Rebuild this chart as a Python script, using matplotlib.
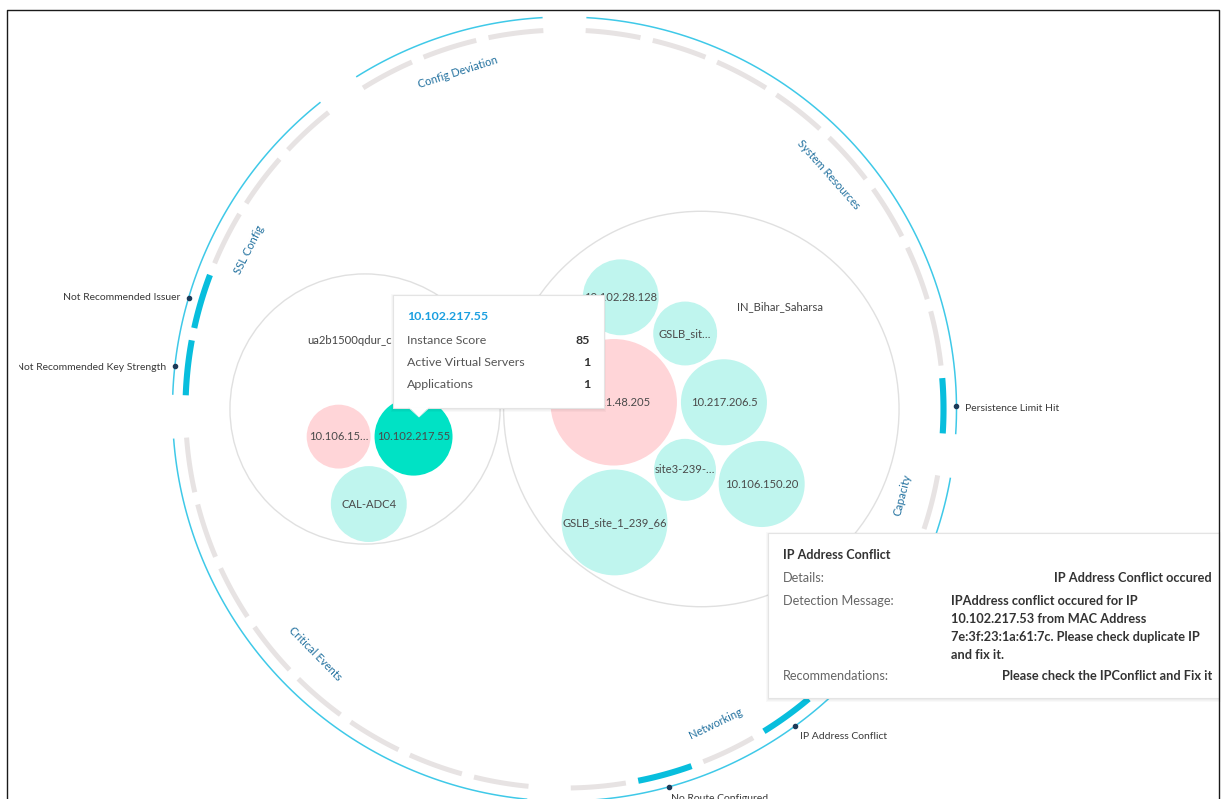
import math
import textwrap
from itertools import combinations

import numpy as np
import matplotlib
matplotlib.use("Agg")
import matplotlib.pyplot as plt
from matplotlib.patches import Circle, Rectangle, Polygon
from matplotlib.transforms import Bbox

plt.rcParams["font.family"] = ["Lato", "DejaVu Sans"]

# ---------------- data ----------------
categories = ["System Resources", "Capacity", "", "Networking",
              "Critical Events", "SSL Config", "Config Deviation"]
segments = [9, 1, 1, 5, 8, 5, 3]

issue_category = ["System Resources", "Networking", "Networking", "SSL Config", "SSL Config"]
issue_slot = [8, 1, 3, 0, 1]
issue_names = ["Persistence Limit Hit", "IP Address Conflict", "No Route Configured",
               "Not Recommended Key Strength", "Not Recommended Issuer"]

group_names = ["ua2b1500qdur_c", "IN_Bihar_Saharsa"]
instance_group = [0, 0, 0, 1, 1, 1, 1, 1, 1, 1]
instance_names = ["10.106.15…", "10.102.217.55", "CAL-ADC4",
                  "10.221.48.205", "10.217.206.5", "site3-239-…", "GSLB_sit…",
                  "GSLB_site_1_239_66", "10.102.28.128", "10.106.150.20"]
instance_size = [10.2, 15.2, 14.4, 40, 18.5, 9.6, 10.2, 28, 14.4, 18.5]
instance_state = ["issue", "selected", "ok", "issue", "ok", "ok", "ok", "ok", "ok", "ok"]

tip_title = "10.102.217.55"
tip_rows = ["Instance Score", "Active Virtual Servers", "Applications"]
tip_values = [85, 1, 1]

detail_title = "IP Address Conflict"
detail_keys = ["Details:", "Detection Message:", "Recommendations:"]
detail_values = ["IP Address Conflict occured",
                 "IPAddress conflict occured for IP 10.102.217.53 from MAC Address "
                 "7e:3f:23:1a:61:7c. Please check duplicate IP and fix it.",
                 "Please check the IPConflict and Fix it"]

# ---------------- style / layout ----------------
W, H = 1223, 799
CX, CY = 564.5, 409
R_LINE, R_DASH = 392, 379
GAP, PAD = 6.4, 1.9
CYAN, CYAN_HOT, GRAY = "#3fc9e8", "#08bedd", "#e7e3e3"
LABEL_C, DOT_C, TXT = "#22719f", "#1d3a58", "#3a3a3a"
fill = {"issue": "#ffd5d8", "ok": "#bff5ee", "selected": "#00e2c5"}

fig = plt.figure(figsize=(W / 100, H / 100), dpi=100)
ax = fig.add_axes([0, 0, 1, 1])
ax.set_xlim(0, W)
ax.set_ylim(H, 0)
ax.axis("off")


def xy(r, deg):
    t = np.radians(deg)
    return CX + r * np.sin(t), CY - r * np.cos(t)


def arc(r, a0, a1, **kw):
    x, y = xy(r, np.linspace(a0, a1, 80))
    ax.plot(x, y, solid_capstyle="butt", **kw)


# ---------------- outer ring ----------------
hot = {(c, s): n for c, s, n in zip(issue_category, issue_slot, issue_names)}
slot = (360 - len(categories) * (GAP - PAD)) / sum(segments)
clip_left = Bbox.from_extents(19, 0, W, H)

a = GAP / 2
for cat, n in zip(categories, segments):
    start = a
    for s in range(n):
        if (cat, s) in hot:
            arc(R_DASH, a, a + slot - PAD, color=CYAN_HOT, lw=4.4, zorder=3)
            m = a + (slot - PAD) / 2
            dx, dy = xy(R_LINE, m)
            ax.plot(dx, dy, "o", ms=3, color=DOT_C, zorder=4)
            tx, ty = xy(R_LINE + 9, m)
            t = ax.text(tx, ty + 2.5, hot[(cat, s)], fontsize=7.5, color=TXT, va="center",
                        ha="left" if np.sin(np.radians(m)) > 0 else "right", clip_on=True)
            t.set_clip_box(clip_left)
        else:
            arc(R_DASH, a, a + slot - PAD, color=GRAY, lw=3.6, zorder=2)
        a += slot
    end = a - PAD
    arc(R_LINE, start, end, color=CYAN, lw=1.1, zorder=2)
    if cat:
        mid = (start + end) / 2
        flip = 90 < mid < 270
        lx, ly = xy(349 if flip else 353, mid)
        ax.text(lx, ly, cat, rotation=(180 - mid) if flip else -mid, rotation_mode="anchor",
                ha="center", va="center", fontsize=8, color=LABEL_C)
    a += GAP - PAD


# ---------------- bubble packing (d3 front-chain) ----------------
def place(b, a, c):
    dx, dy = b[0] - a[0], b[1] - a[1]
    d2 = dx * dx + dy * dy
    if d2:
        a2 = (a[2] + c[2]) ** 2
        b2 = (b[2] + c[2]) ** 2
        if a2 > b2:
            x = (d2 + b2 - a2) / (2 * d2)
            y = math.sqrt(max(0, b2 / d2 - x * x))
            c[0] = b[0] - x * dx - y * dy
            c[1] = b[1] - x * dy + y * dx
        else:
            x = (d2 + a2 - b2) / (2 * d2)
            y = math.sqrt(max(0, a2 / d2 - x * x))
            c[0] = a[0] + x * dx - y * dy
            c[1] = a[1] + x * dy + y * dx
    else:
        c[0], c[1] = a[0] + c[2], a[1]


def hits(a, b):
    dr = a[2] + b[2] - 1e-6
    return dr > 0 and dr * dr > (b[0] - a[0]) ** 2 + (b[1] - a[1]) ** 2


def basis2(a, b):
    x21, y21, r21 = b[0] - a[0], b[1] - a[1], b[2] - a[2]
    l = math.hypot(x21, y21)
    if l == 0:
        return None
    return [(a[0] + b[0] + x21 / l * r21) / 2, (a[1] + b[1] + y21 / l * r21) / 2, (l + a[2] + b[2]) / 2]


def basis3(p, q, s):
    x1, y1, r1 = p
    x2, y2, r2 = q
    x3, y3, r3 = s
    a2, a3, b2, b3 = x1 - x2, x1 - x3, y1 - y2, y1 - y3
    c2, c3 = r2 - r1, r3 - r1
    d1 = x1 * x1 + y1 * y1 - r1 * r1
    d2 = d1 - x2 * x2 - y2 * y2 + r2 * r2
    d3 = d1 - x3 * x3 - y3 * y3 + r3 * r3
    ab = a3 * b2 - a2 * b3
    if ab == 0:
        return None
    xa = (b2 * d3 - b3 * d2) / (ab * 2) - x1
    xb = (b3 * c2 - b2 * c3) / ab
    ya = (a3 * d2 - a2 * d3) / (ab * 2) - y1
    yb = (a2 * c3 - a3 * c2) / ab
    A = xb * xb + yb * yb - 1
    B = 2 * (r1 + xa * xb + ya * yb)
    C = xa * xa + ya * ya - r1 * r1
    disc = B * B - 4 * A * C
    if abs(A) > 1e-6:
        if disc < 0:
            return None
        r = -(B + math.sqrt(disc)) / (2 * A)
    else:
        r = -C / B
    return [x1 + xa + xb * r, y1 + ya + yb * r, r]


def enclose(cs):
    cands = [list(c) for c in cs]
    cands += [basis2(p, q) for p, q in combinations(cs, 2)]
    cands += [basis3(p, q, s) for p, q, s in combinations(cs, 3)]
    best = None
    for e in cands:
        if e is None or e[2] <= 0:
            continue
        if all(math.hypot(e[0] - c[0], e[1] - c[1]) + c[2] <= e[2] + 1e-6 for c in cs):
            if best is None or e[2] < best[2]:
                best = e
    return best


def pack_siblings(circles):
    n = len(circles)
    circles[0][0] = circles[0][1] = 0.0
    if n > 1:
        circles[0][0], circles[1][0], circles[1][1] = -circles[1][2], circles[0][2], 0.0
    if n > 2:
        place(circles[1], circles[0], circles[2])
        nxt = {0: 1, 1: 2, 2: 0}
        prv = {0: 2, 1: 0, 2: 1}

        def score(i):
            p, q = circles[i], circles[nxt[i]]
            ab = p[2] + q[2]
            sx = (p[0] * q[2] + q[0] * p[2]) / ab
            sy = (p[1] * q[2] + q[1] * p[2]) / ab
            return sx * sx + sy * sy

        a, b, i = 0, 1, 3
        while i < n:
            c = i
            place(circles[a], circles[b], circles[c])
            j, k = nxt[b], prv[a]
            sj, sk = circles[b][2], circles[a][2]
            retry = False
            while True:
                if sj <= sk:
                    if hits(circles[j], circles[c]):
                        b = j
                        nxt[a], prv[b] = b, a
                        retry = True
                        break
                    sj += circles[j][2]
                    j = nxt[j]
                else:
                    if hits(circles[k], circles[c]):
                        a = k
                        nxt[a], prv[b] = b, a
                        retry = True
                        break
                    sk += circles[k][2]
                    k = prv[k]
                if j == nxt[k]:
                    break
            if retry:
                continue
            prv[c], nxt[c] = a, b
            nxt[a] = c
            prv[b] = c
            b = c
            best = score(a)
            t = nxt[c]
            while t != b:
                s = score(t)
                if s < best:
                    a, best = t, s
                t = nxt[t]
            b = nxt[a]
            i += 1
    e = enclose(circles)
    for c in circles:
        c[0] -= e[0]
        c[1] -= e[1]
    return circles


BUB_PAD = 2
GROUP_K, GROUP_GAP = 72.2, 3.5
settle_dir = [74, 167]          # direction each cluster rests against its group wall
label_off = [(-58, -69, "left"), (79, -102, "center")]

radii = 10 * np.sqrt(instance_size)
counts = [instance_group.count(g) for g in range(len(group_names))]
g_r = [GROUP_K * math.sqrt(c + 0.5) for c in counts]
x0 = CX - (2 * sum(g_r) + GROUP_GAP) / 2
g_x = [x0 + g_r[0], x0 + 2 * g_r[0] + GROUP_GAP + g_r[1]]

for g, name in enumerate(group_names):
    idx = [i for i, gi in enumerate(instance_group) if gi == g]
    cs = pack_siblings([[0.0, 0.0, radii[i] + BUB_PAD] for i in idx])
    ux, uy = math.cos(math.radians(settle_dir[g])), math.sin(math.radians(settle_dir[g]))
    lo, hi = 0.0, g_r[g]
    for _ in range(60):
        s = (lo + hi) / 2
        reach = max(math.hypot(c[0] + s * ux, c[1] + s * uy) + c[2] - BUB_PAD for c in cs)
        if reach > g_r[g] - 2:
            hi = s
        else:
            lo = s
    ax.add_patch(Circle((g_x[g], CY), g_r[g], fill=False, ec="#e0e0e0", lw=1.0, zorder=1))
    for i, c in zip(idx, cs):
        bx, by = g_x[g] + c[0] + lo * ux, CY + c[1] + lo * uy
        ax.add_patch(Circle((bx, by), radii[i], fc=fill[instance_state[i]], ec="none", zorder=2))
        ax.text(bx, by, instance_names[i], ha="center", va="center", fontsize=8.1, color="#4a4a4a", zorder=3)
    ox, oy, ha = label_off[g]
    ax.text(g_x[g] + ox, CY + oy, name, ha=ha, va="center", fontsize=8.1, color="#444444", zorder=3)


# ---------------- tooltips ----------------
def card(x, y, w, h):
    for k in range(3, 0, -1):
        ax.add_patch(Rectangle((x - k + 1, y - k + 2), w + 2 * k - 2, h + 2 * k - 1,
                               fc="black", ec="none", alpha=0.025, zorder=9))
    ax.add_patch(Rectangle((x, y), w, h, fc="white", ec="#e4e4e4", lw=0.8, zorder=10))


card(393, 295, 211, 113)
ax.add_patch(Polygon([(409, 407.3), (429, 407.3), (419, 417)], closed=True,
                     fc="white", ec="none", zorder=11))
ax.plot([409, 419, 429], [408, 417, 408], color="#e4e4e4", lw=0.6, zorder=10.5)
ax.text(407, 317, tip_title, fontsize=8.9, weight="bold", color="#1b9fe0", va="center", zorder=12)
for k, (lab, val) in enumerate(zip(tip_rows, tip_values)):
    yy = 340 + k * 22.5
    ax.text(407, yy, lab, fontsize=8.9, color="#555555", va="center", zorder=12)
    ax.text(590, yy, str(val), fontsize=8.9, weight="bold", color="#333333", va="center", ha="right", zorder=12)

card(768, 533, 451, 165)
ax.text(783, 555, detail_title, fontsize=9.1, weight="bold", color="#333333", va="center", zorder=12)
yy = 578
for key, val in zip(detail_keys, detail_values):
    ax.text(783, yy, key, fontsize=9.1, color="#666666", va="center", zorder=12)
    lines = textwrap.wrap(val, 44)
    if len(lines) > 1:
        for ln in lines:
            ax.text(951, yy, ln, fontsize=9.2, weight="bold", color="#333333", va="center", zorder=12)
            yy += 18
        yy += 3
    else:
        ax.text(1212, yy, val, fontsize=9.2, weight="bold", color="#333333", va="center", ha="right", zorder=12)
        yy += 23

# frame
ax.plot([7, 7, 1219, 1219], [H + 5, 10, 10, H + 5], color="#1a1a1a", lw=1.0, zorder=20)

fig.savefig("out.png", dpi=100)
